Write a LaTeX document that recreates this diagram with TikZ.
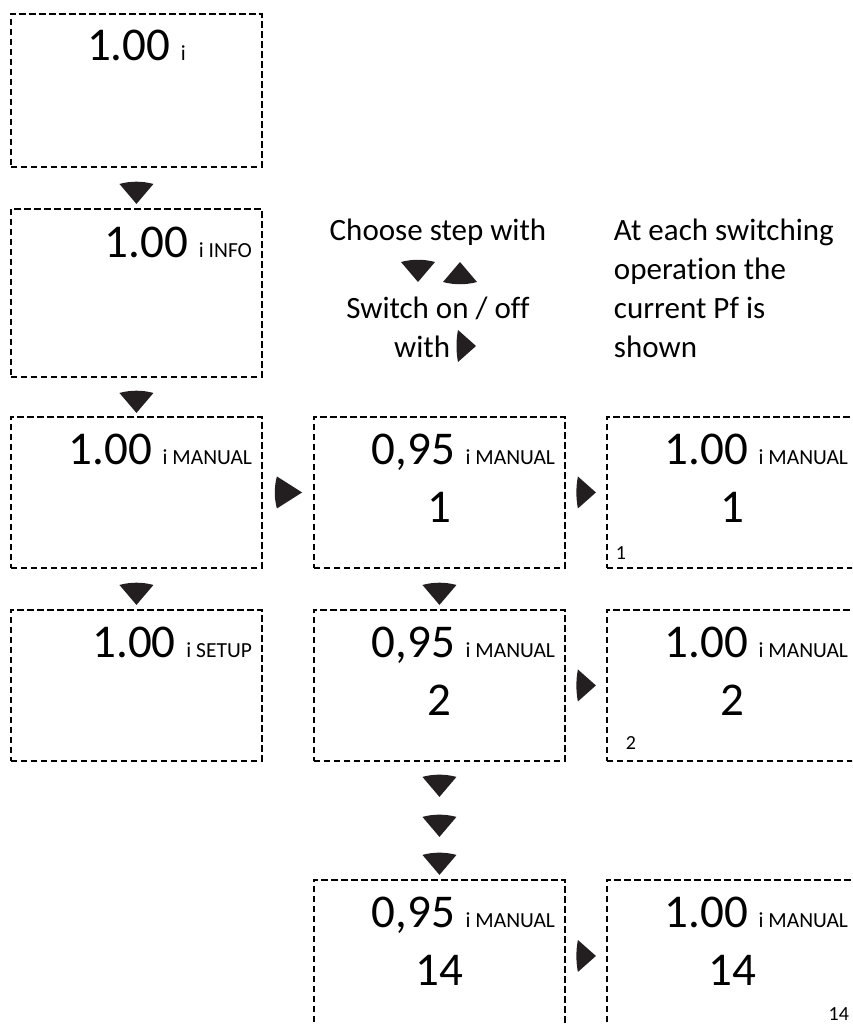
\documentclass[tikz,border=0pt]{standalone}
\usepackage{fontspec}
\setmainfont{Carlito}[Ligatures = NoCommon]
\usetikzlibrary{positioning}
\usetikzlibrary{calc}

\definecolor{keyblack}{RGB}{35,31,32}
\newcommand{\tagfont}[1]{{\fontsize{21.5}{25}\selectfont #1}}

\begin{document}
\begin{tikzpicture}[x = 1pt, y = 1pt, line width = 1.9pt]
\tikzset{
  block/.style = {draw, dash pattern = on 6.5pt off 3.5pt, rectangle, anchor = north west, minimum width = 251pt, inner sep = 0pt},
  value/.style = {anchor = base east, inner sep = 0pt, font = \fontsize{47}{56}\selectfont},
  stepno/.style = {anchor = base, inner sep = 0pt, font = \fontsize{47}{56}\selectfont},
  index/.style = {inner sep = 0pt, font = \fontsize{20}{24}\selectfont},
  note/.style = {inner sep = 0pt, font = \fontsize{31}{39}\selectfont},
  downkey/.pic = {\fill [keyblack] (-17,0) .. controls (-6,3) and (6,3) .. (17,0) -- (0,-20) -- cycle;},
  upkey/.pic = {\fill [keyblack] (-17,0) .. controls (-6,-3) and (6,-3) .. (17,0) -- (0,20) -- cycle;},
  rightkey/.pic = {\fill [keyblack] (0,16) .. controls (-2,6) and (-2,-6) .. (0,-16) -- (18,0) -- cycle;},
}
\useasboundingbox (0,0) rectangle (852,-1025);
\clip (0,0) rectangle (852,-1025);

% left column
\node [block, minimum height = 153pt] (boxStart) at (10,-13) {};
\node [block, minimum height = 168pt] (boxInfo) at (10,-208) {};
\node [block, minimum height = 151pt] (boxManual) at (10,-416) {};
\node [block, minimum height = 151pt] (boxSetup) at (10,-609) {};

% middle column
\node [block, minimum height = 151pt] (boxStepA) at (313,-416) {};
\node [block, minimum height = 151pt] (boxStepB) at (313,-609) {};
\node [block, minimum height = 152pt] (boxStepN) at (313,-879) {};

% right column
\node [block, minimum height = 151pt] (boxPfA) at (606,-416) {};
\node [block, minimum height = 151pt] (boxPfB) at (606,-609) {};
\node [block, minimum height = 152pt] (boxPfN) at (606,-879) {};

% display texts
\node [value, anchor = base] (valStart) at ($(boxStart.north)+(0,-48)$) {1.00 \tagfont{i}};
\node [value] (valInfo) at ($(boxInfo.north east)+(-10,-49)$) {1.00 \tagfont{i INFO}};
\node [value] (valManual) at ($(boxManual.north east)+(-10,-48)$) {1.00 \tagfont{i MANUAL}};
\node [value] (valSetup) at ($(boxSetup.north east)+(-10,-48)$) {1.00 \tagfont{i SETUP}};
\node [value] (valStepA) at ($(boxStepA.north east)+(-10,-48)$) {0,95 \tagfont{i MANUAL}};
\node [value] (valStepB) at ($(boxStepB.north east)+(-10,-48)$) {0,95 \tagfont{i MANUAL}};
\node [value] (valStepN) at ($(boxStepN.north east)+(-10,-48)$) {0,95 \tagfont{i MANUAL}};
\node [value] (valPfA) at ($(boxPfA.north east)+(-10,-48)$) {1.00 \tagfont{i MANUAL}};
\node [value] (valPfB) at ($(boxPfB.north east)+(-10,-48)$) {1.00 \tagfont{i MANUAL}};
\node [value] (valPfN) at ($(boxPfN.north east)+(-10,-48)$) {1.00 \tagfont{i MANUAL}};
\node [stepno] (noStepA) at ($(boxStepA.north)+(0,-106)$) {1};
\node [stepno] (noStepB) at ($(boxStepB.north)+(0,-106)$) {2};
\node [stepno] (noStepN) at ($(boxStepN.north)+(0,-106)$) {14};
\node [stepno] (noPfA) at ($(boxPfA.north)+(0,-106)$) {1};
\node [stepno] (noPfB) at ($(boxPfB.north)+(0,-106)$) {2};
\node [stepno] (noPfN) at ($(boxPfN.north)+(0,-106)$) {14};
\node [index, anchor = base west] (idxPfA) at ($(boxPfA.south west)+(9,9)$) {1};
\node [index, anchor = base west] (idxPfB) at ($(boxPfB.south west)+(19,12)$) {2};
\node [index, anchor = base east] (idxPfN) at ($(boxPfN.north east)+(-9,-141)$) {14};

% keys between the displays
\pic at ($(boxStart.south)!0.5!(boxInfo.north)+(0,4)$) {downkey};
\pic at ($(boxInfo.south)!0.5!(boxManual.north)+(0,4)$) {downkey};
\pic at ($(boxManual.south)!0.5!(boxSetup.north)+(0,4)$) {downkey};
\pic at ($(boxStepA.south)!0.5!(boxStepB.north)+(0,4)$) {downkey};
\pic at ($(boxStepB.south)+(0,-15)$) {downkey};
\pic at ($(boxStepB.south)+(0,-55)$) {downkey};
\pic at ($(boxStepB.south)+(0,-93)$) {downkey};
\pic [xscale = 1.4] at ($(boxManual.east)+(14,0)$) {rightkey};
\pic at ($(boxStepA.east)+(12,0)$) {rightkey};
\pic at ($(boxStepB.east)+(12,0)$) {rightkey};
\pic at ($(boxStepN.east)+(12,0)$) {rightkey};

% notes
\node [note, anchor = base] (chooseNote) at (438,-240) {Choose step with};
\pic at (418,-262) {downkey};
\pic at (460,-282) {upkey};
\node [note, anchor = base] (switchNote) at (438,-318) {Switch on / off};
\node [note, anchor = base east] (withNote) at (451,-357) {with};
\pic at (458,-346) {rightkey};
\node [note, anchor = north west, align = left] (pfNote) at (613,-218) {At each switching\\operation the\\current Pf is\\shown};
\end{tikzpicture}
\end{document}
